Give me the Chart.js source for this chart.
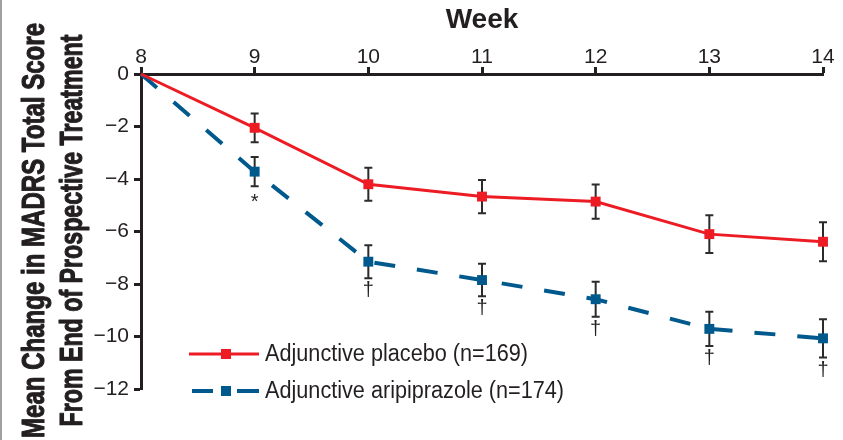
<!DOCTYPE html>
<html>
<head>
<meta charset="utf-8">
<script src="https://cdn.jsdelivr.net/npm/chart.js@4"></script>
<style>
  html, body { margin: 0; padding: 0; background: #fff; }
</style>
</head>
<body>
<canvas id="chart" width="843" height="440"></canvas>
<script>
// data
const weeks = [8, 9, 10, 11, 12, 13, 14];
const placebo = [0, -2.05, -4.2, -4.67, -4.86, -6.1, -6.39];
const placeboErr = [0, 0.55, 0.63, 0.63, 0.65, 0.72, 0.74];
const aripiprazole = [0, -3.72, -7.15, -7.85, -8.58, -9.71, -10.07];
const aripiprazoleErr = [0, 0.56, 0.63, 0.62, 0.67, 0.65, 0.73];
const aripiprazoleMarks = ['', '*', '\u2020', '\u2020', '\u2020', '\u2020', '\u2020'];
const seriesNames = ['Adjunctive placebo (n=169)', 'Adjunctive aripiprazole (n=174)'];
const yTitle = ['Mean Change in MADRS Total Score', 'From End of Prospective Treatment'];

const FONT = "'Liberation Sans', Arial, sans-serif";
const INK = '#231f20';
const RED = '#ed1c24';
const BLUE = '#00598c';

function toPoints(vals) {
  return weeks.map((w, i) => ({ x: w, y: vals[i] }));
}

// error bars under the markers
const errorBars = {
  id: 'errorBars',
  beforeDatasetsDraw(chart) {
    const ctx = chart.ctx;
    const xs = chart.scales.x, ys = chart.scales.y;
    const sets = [[placebo, placeboErr], [aripiprazole, aripiprazoleErr]];
    ctx.save();
    ctx.strokeStyle = '#2b2b2b';
    ctx.lineWidth = 2;
    for (const [vals, errs] of sets) {
      vals.forEach((v, i) => {
        if (!errs[i]) return;
        const x = xs.getPixelForValue(weeks[i]);
        const y1 = ys.getPixelForValue(v + errs[i]);
        const y2 = ys.getPixelForValue(v - errs[i]);
        ctx.beginPath();
        ctx.moveTo(x, y1); ctx.lineTo(x, y2);
        ctx.moveTo(x - 4, y1); ctx.lineTo(x + 4, y1);
        ctx.moveTo(x - 4, y2); ctx.lineTo(x + 4, y2);
        ctx.stroke();
      });
    }
    ctx.restore();
  },
  afterDatasetsDraw(chart) {
    // significance marks under the aripiprazole bars
    const ctx = chart.ctx;
    const xs = chart.scales.x, ys = chart.scales.y;
    ctx.save();
    ctx.fillStyle = INK;
    ctx.font = '20px ' + FONT;
    ctx.textAlign = 'center';
    ctx.textBaseline = 'alphabetic';
    aripiprazoleMarks.forEach((m, i) => {
      if (!m) return;
      const x = xs.getPixelForValue(weeks[i]);
      const y = ys.getPixelForValue(aripiprazole[i] - aripiprazoleErr[i]);
      ctx.fillText(m, x, y + (m === '*' ? 22 : 18));
    });
    ctx.restore();
  }
};

// y title in a condensed heavy face (no narrow font installed, so squeeze it)
const yTitleText = {
  id: 'yTitleText',
  afterDraw(chart) {
    const ctx = chart.ctx;
    const area = chart.chartArea;
    const cy = (area.top + area.bottom) / 2 - 1;
    const lines = [
      { text: yTitle[0], base: 43.5, len: 415 },
      { text: yTitle[1], base: 82, len: 392 }
    ];
    ctx.save();
    ctx.fillStyle = INK;
    ctx.strokeStyle = INK;
    ctx.lineWidth = 1.1;
    ctx.lineJoin = 'round';
    ctx.font = 'bold 31px ' + FONT;
    ctx.textAlign = 'center';
    ctx.textBaseline = 'alphabetic';
    for (const l of lines) {
      const w = ctx.measureText(l.text).width;
      ctx.save();
      ctx.translate(l.base, cy);
      ctx.rotate(-Math.PI / 2);
      ctx.scale(l.len / w, 1);
      ctx.fillText(l.text, 0, 0);
      ctx.strokeText(l.text, 0, 0);
      ctx.restore();
    }
    ctx.restore();
  }
};

// legend inside the plot, bottom left
const insideLegend = {
  id: 'insideLegend',
  afterDraw(chart) {
    const ctx = chart.ctx;
    ctx.save();
    // red solid
    ctx.strokeStyle = RED;
    ctx.lineWidth = 3;
    ctx.beginPath(); ctx.moveTo(189, 354); ctx.lineTo(259, 354); ctx.stroke();
    ctx.fillStyle = RED;
    ctx.fillRect(221, 349, 10, 10);
    // blue dashed
    ctx.strokeStyle = BLUE;
    ctx.lineWidth = 4;
    ctx.beginPath();
    ctx.moveTo(192, 391); ctx.lineTo(213, 391);
    ctx.moveTo(237, 391); ctx.lineTo(259, 391);
    ctx.stroke();
    ctx.fillStyle = BLUE;
    ctx.fillRect(221, 386, 10, 10);
    // labels, slightly condensed
    ctx.fillStyle = INK;
    ctx.font = '23px ' + FONT;
    ctx.textAlign = 'left';
    ctx.textBaseline = 'middle';
    const sx = 263 / ctx.measureText(seriesNames[0]).width;
    [[seriesNames[0], 355], [seriesNames[1], 392]].forEach(([t, y]) => {
      ctx.save();
      ctx.translate(265, y);
      ctx.scale(sx, 1);
      ctx.fillText(t, 0, 0);
      ctx.restore();
    });
    // frame edge on the left
    ctx.fillStyle = '#a0a0a0';
    ctx.fillRect(0, 0, 2, 440);
    ctx.restore();
  }
};

new Chart(document.getElementById('chart'), {
  type: 'line',
  data: {
    datasets: [
      {
        label: seriesNames[0],
        data: toPoints(placebo),
        borderColor: RED,
        backgroundColor: RED,
        borderWidth: 3,
        pointStyle: 'rect',
        pointRadius: weeks.map((w, i) => i === 0 ? 0 : 7),
        pointBorderWidth: 0,
        tension: 0,
        clip: false
      },
      {
        label: seriesNames[1],
        data: toPoints(aripiprazole),
        borderColor: BLUE,
        backgroundColor: BLUE,
        borderWidth: 4,
        borderDash: [21, 22],
        pointStyle: 'rect',
        pointRadius: weeks.map((w, i) => i === 0 ? 0 : 7),
        pointBorderWidth: 0,
        tension: 0,
        clip: false
      }
    ]
  },
  options: {
    responsive: false,
    devicePixelRatio: 1,
    animation: false,
    layout: { padding: { left: 0, top: 0, right: 20, bottom: 51 } },
    plugins: {
      legend: { display: false },
      tooltip: { enabled: false }
    },
    scales: {
      x: {
        type: 'linear',
        position: 'top',
        min: 8,
        max: 14,
        ticks: { stepSize: 1, color: INK, font: { family: FONT, size: 21 }, padding: -3 },
        grid: { drawOnChartArea: false, drawTicks: true, tickLength: 7, tickWidth: 3, tickColor: INK },
        border: { color: INK, width: 3 },
        title: {
          display: true,
          text: 'Week',
          color: INK,
          font: { family: FONT, size: 28, weight: 'bold' },
          padding: { top: 3, bottom: 0 }
        },
        afterFit: s => { s.height = 74; }
      },
      y: {
        min: -12,
        max: 0,
        ticks: {
          stepSize: 2,
          color: INK,
          font: { family: FONT, size: 21 },
          padding: 5,
          callback: v => v === 0 ? '0' : '\u2212' + Math.abs(v)
        },
        grid: { drawOnChartArea: false, drawTicks: true, tickLength: 7, tickWidth: 3, tickColor: INK },
        border: { color: INK, width: 3 },
        title: { display: false },
        afterFit: s => { s.width = 141; }
      }
    }
  },
  plugins: [errorBars, yTitleText, insideLegend]
});
</script>
</body>
</html>
